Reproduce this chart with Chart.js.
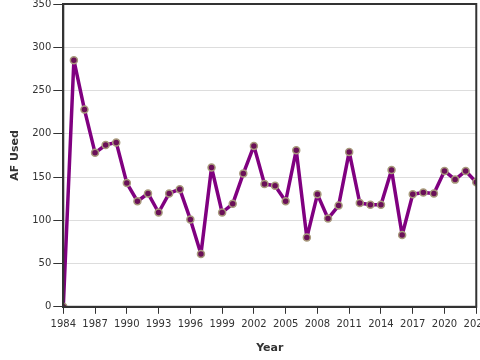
<!DOCTYPE html>
<html><head><meta charset="utf-8">
<script src="https://cdn.jsdelivr.net/npm/chart.js@4/dist/chart.umd.min.js"></script>
<style>html,body{margin:0;padding:0;overflow:hidden;background:#fff}#wrap{width:494px;height:364px;margin-top:-4px}</style>
</head><body><div id="wrap"><canvas id="c"></canvas></div>
<script>
const years = [1984,1985,1986,1987,1988,1989,1990,1991,1992,1993,1994,1995,1996,1997,1998,1999,2000,2001,2002,2003,2004,2005,2006,2007,2008,2009,2010,2011,2012,2013,2014,2015,2016,2017,2018,2019,2020,2021,2022,2023];
const afUsed = [0,285,228,178,187,190,143,122,131,109,131,136,101,61,161,109,119,154,186,142,140,122,181,80,130,102,117,179,120,118,118,158,83,130,132,131,157,147,157,144];
const xTitle = 'Year';
const yTitle = 'AF Used';

const boxPlugin = {id:'box', afterDraw(ch){const a=ch.chartArea,c=ch.ctx;c.save();c.strokeStyle='#333';c.lineWidth=2;c.strokeRect(a.left,a.top,a.right-a.left,a.bottom-a.top);c.restore();}};
Chart.defaults.font.family = 'DejaVu Sans';
new Chart(document.getElementById('c'), {
  type:'line',
  data:{datasets:[{data:years.map((y,i)=>({x:y,y:afUsed[i]})),borderColor:'#800080',borderWidth:3.5,borderJoinStyle:'round',borderCapStyle:'round',
    pointRadius:3.5,pointBackgroundColor:'#6a1058',pointBorderColor:'#a89a7c',pointBorderWidth:1.5,tension:0}]},
  options:{responsive:true,maintainAspectRatio:false,animation:false,
    layout:{padding:{top:0,right:0,left:5,bottom:1}},
    plugins:{legend:{display:false},tooltip:{enabled:false}},
    scales:{
      x:{type:'linear',min:1984,max:2023,
        ticks:{stepSize:3,color:'#333',font:{size:10},maxRotation:0,autoSkip:false,padding:5,callback:v=>String(v)},
        grid:{drawOnChartArea:false,drawTicks:true,tickLength:7,tickColor:'#333',tickWidth:1},
        border:{color:'#333',width:2},
        title:{display:true,text:xTitle,color:'#333',font:{size:11,weight:'bold'},padding:{top:6}}},
      y:{min:0,max:350,
        ticks:{stepSize:50,color:'#333',font:{size:10},padding:2},
        grid:{color:'#ddd',lineWidth:1,tickLength:10,tickColor:'#333',tickWidth:1},
        border:{color:'#333',width:2},
        title:{display:true,text:yTitle,color:'#333',font:{size:11,weight:'bold'},padding:{bottom:8}}}
    }},
  plugins:[boxPlugin]
});
</script></body></html>
